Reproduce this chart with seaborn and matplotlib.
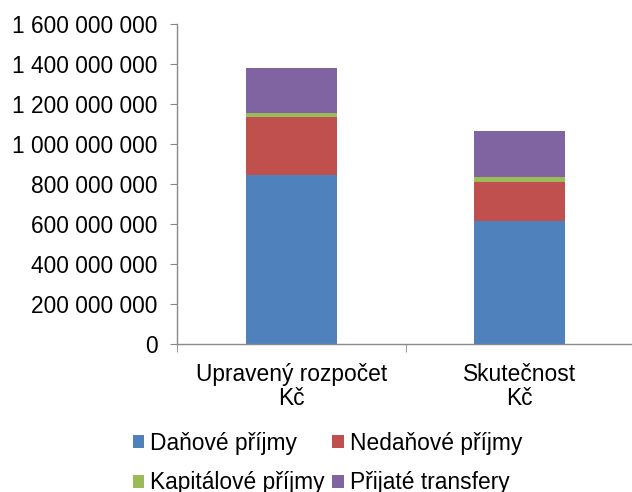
import numpy as np
import pandas as pd
import matplotlib
matplotlib.use("Agg")
import matplotlib.pyplot as plt
import seaborn as sns
from matplotlib.patches import Patch
from matplotlib.ticker import FuncFormatter

kategorie = ["Upravený rozpočet\nKč", "Skutečnost\nKč"]
serie = ["Daňové příjmy", "Nedaňové příjmy", "Kapitálové příjmy", "Přijaté transfery"]
danove = [845000000, 615000000]
nedanove = [288000000, 197000000]
kapitalove = [20000000, 23000000]
transfery = [225000000, 232000000]
barvy = ["#4F81BD", "#C0504D", "#9BBB59", "#8064A2"]

sns.set_style("white")
plt.rcParams['font.family'] = ['Liberation Sans', 'DejaVu Sans']
plt.rcParams['text.color'] = 'black'
plt.rcParams['xtick.color'] = 'black'
plt.rcParams['ytick.color'] = 'black'

df = pd.DataFrame({"kat": kategorie, serie[0]: danove, serie[1]: nedanove,
                   serie[2]: kapitalove, serie[3]: transfery})
kum = df[serie].cumsum(axis=1)

fig = plt.figure(figsize=(6.32, 4.92), dpi=100)
ax = fig.add_axes([177/632, 148/492, 457/632, 320/492])

# stacked: draw cumulative totals from the top down
for s, c in reversed(list(zip(serie, barvy))):
    sns.barplot(x=df["kat"], y=kum[s], color=c, width=0.4, ax=ax,
                saturation=1, edgecolor="none", zorder=2)

ax.set_ylim(0, 1600000000)
ax.set_xlim(-0.5, 1.5)
ax.set_yticks(np.arange(0, 1600000001, 200000000))
ax.yaxis.set_major_formatter(FuncFormatter(lambda v, p: "{:,.0f}".format(v).replace(",", " ")))
ax.set_xlabel("")
ax.set_ylabel("")
for sp in ["top", "right"]:
    ax.spines[sp].set_visible(False)
for sp in ["left", "bottom"]:
    ax.spines[sp].set_color("#898989")
    ax.spines[sp].set_linewidth(1)

ax.tick_params(axis="y", which="major", left=True, length=5, color="#898989",
               labelcolor="black", labelsize=16.4, pad=9)
ax.tick_params(axis="x", which="major", bottom=False, labelcolor="black",
               labelsize=16.4, pad=10)
ax.set_xticks([-0.5, 0.5, 1.5], minor=True)
ax.tick_params(axis="x", which="minor", bottom=True, length=6, color="#898989")
for t in ax.get_xticklabels():
    t.set_linespacing(1.05)

h = [Patch(facecolor=c, edgecolor="none") for c in barvy]
poradi = [0, 2, 1, 3]
fig.legend([h[i] for i in poradi], [serie[i] for i in poradi], loc="lower left",
           bbox_to_anchor=(112/632, -0.046), ncol=2, frameon=False, fontsize=16.4,
           handlelength=0.5, handleheight=0.5, handletextpad=0.26,
           columnspacing=0.35, labelspacing=0.72)

fig.savefig("out.png", dpi=100)
